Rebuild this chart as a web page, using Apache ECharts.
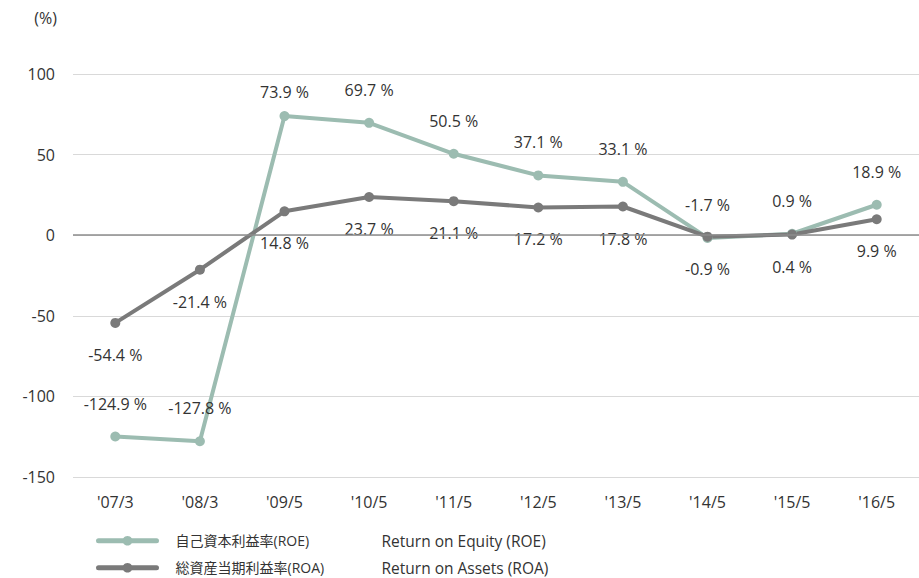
<!DOCTYPE html>
<html>
<head>
<meta charset="utf-8">
<script src="https://cdn.jsdelivr.net/npm/echarts@6/dist/echarts.min.js"></script>
<style>
  html, body { margin: 0; padding: 0; background: #fff; }
  #chart { width: 919px; height: 578px; }
</style>
</head>
<body>
<div id="chart"></div>
<script>
var categories = ["'07/3", "'08/3", "'09/5", "'10/5", "'11/5", "'12/5", "'13/5", "'14/5", "'15/5", "'16/5"];
var roe = [-124.9, -127.8, 73.9, 69.7, 50.5, 37.1, 33.1, -1.7, 0.9, 18.9];
var roa = [-54.4, -21.4, 14.8, 23.7, 21.1, 17.2, 17.8, -0.9, 0.4, 9.9];
var seriesNamesJa = ['自己資本利益率(ROE)', '総資産当期利益率(ROA)'];
var seriesNamesEn = ['Return on Equity (ROE)', 'Return on Assets (ROA)'];

var font = '"Open Sans", "Noto Sans CJK JP", sans-serif';
var textColor = '#333333';
var roeColor = '#9cbcb1';
var roaColor = '#7a7a7a';

function legendFor(i, top) {
  return {
    left: 91,
    top: top,
    itemWidth: 58,
    itemHeight: 12,
    data: [seriesNamesJa[i]],
    lineStyle: { width: 5, cap: 'round' },
    formatter: function(name) {
      return '{a|' + name + '}{b|' + seriesNamesEn[i] + '}';
    },
    textStyle: {
      color: textColor,
      fontFamily: font,
      rich: {
        a: { width: 206, fontSize: 14, color: textColor, fontFamily: font, padding: [0, 0, 0, 14] },
        b: { fontSize: 15.5, color: textColor, fontFamily: font }
      }
    }
  };
}

var chart = echarts.init(document.getElementById('chart'), null, { renderer: 'svg' });
chart.setOption({
  animation: false,
  textStyle: { fontFamily: font },
  grid: { left: 73, right: -15, top: 74, bottom: 101 },
  legend: [legendFor(0, 528), legendFor(1, 555)],
  xAxis: {
    type: 'category',
    data: categories,
    axisLine: { show: false },
    axisTick: { show: false },
    axisLabel: { color: textColor, fontSize: 16, margin: 17 }
  },
  yAxis: {
    type: 'value',
    min: -150,
    max: 100,
    interval: 50,
    name: '(%)',
    nameLocation: 'end',
    nameGap: 48,
    nameTextStyle: { color: textColor, fontSize: 16, fontFamily: font, align: 'right', padding: [0, 16, 0, 0] },
    axisLine: { show: false },
    axisTick: { show: false },
    axisLabel: { color: textColor, fontSize: 16, margin: 18 },
    splitLine: { lineStyle: { color: '#d9d9d9', width: 1 } }
  },
  series: [
    {
      name: seriesNamesJa[0],
      type: 'line',
      data: roe.map(function(v, i) {
        return i === 2 ? { value: v, label: { distance: 11 } } : v;
      }),
      symbol: 'circle',
      symbolSize: 10,
      lineStyle: { color: roeColor, width: 4 },
      itemStyle: { color: roeColor },
      label: {
        show: true,
        position: 'top',
        distance: 20,
        color: textColor,
        fontSize: 16,
        formatter: function(p) { return p.value + ' %'; }
      },
      markLine: {
        silent: true,
        symbol: 'none',
        label: { show: false },
        lineStyle: { color: '#8c8c8c', type: 'solid', width: 1.5 },
        data: [{ yAxis: 0 }]
      }
    },
    {
      name: seriesNamesJa[1],
      type: 'line',
      data: roa,
      symbol: 'circle',
      symbolSize: 10,
      lineStyle: { color: roaColor, width: 4 },
      itemStyle: { color: roaColor },
      label: {
        show: true,
        position: 'bottom',
        distance: 19,
        color: textColor,
        fontSize: 16,
        formatter: function(p) { return p.value + ' %'; }
      }
    }
  ]
});
</script>
</body>
</html>
